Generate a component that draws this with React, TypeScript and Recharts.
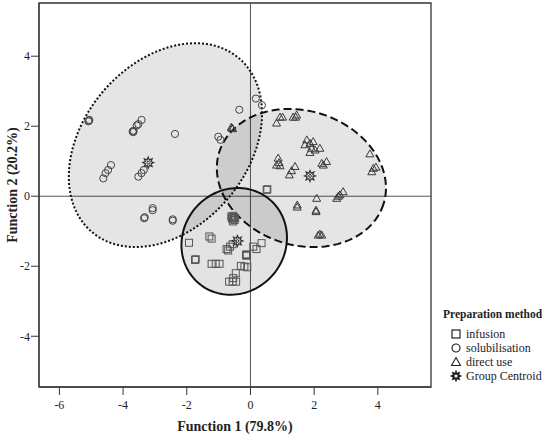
import React from "react";
import {
  ReferenceArea,
  ReferenceLine,
  Scatter,
  ScatterChart,
  XAxis,
  YAxis,
} from "recharts";

const SERIF = "'Liberation Serif', 'Times New Roman', serif";
const INK = "#333";

const X_TICKS = [-6, -4, -2, 0, 2, 4];
const Y_TICKS = [-4, -2, 0, 2, 4];
const X_DOMAIN = [-6.64, 5.67];
const Y_DOMAIN = [-5.45, 5.52];

// discriminant scores [function 1, function 2]
const infusion = [
  [0.51, 0.18], [0.53, 0.2],
  [-1.93, -1.33], [-1.29, -1.15], [-1.22, -1.21],
  [-1.74, -1.82], [-1.72, -1.8],
  [-1.22, -1.93], [-1.09, -1.93], [-0.97, -1.93],
  [-0.75, -1.51], [-0.7, -1.55], [-0.64, -1.44], [-0.56, -1.37],
  [-0.14, -1.68], [-0.12, -1.66], [-0.13, -1.7],
  [0.09, -1.44], [0.19, -1.51], [0.35, -1.34],
  [-0.3, -1.99], [-0.19, -2.01], [-0.1, -2.03],
  [-0.46, -2.2], [-0.67, -2.44], [-0.56, -2.44], [-0.45, -2.44], [-0.54, -2.34],
  [-0.56, -0.56], [-0.52, -0.6], [-0.58, -0.64], [-0.5, -0.68],
  [-0.55, -0.72], [-0.53, -0.62], [-0.6, -0.58], [-0.48, -0.63],
];

const solubilisation = [
  [-5.07, 2.16], [-5.09, 2.14], [-5.06, 2.18],
  [-3.7, 1.85], [-3.67, 1.87], [-3.68, 1.83],
  [-3.52, 2.06], [-3.57, 2.02], [-3.42, 2.18], [-2.37, 1.78],
  [-4.62, 0.51], [-4.55, 0.66], [-4.47, 0.75], [-4.38, 0.89],
  [-3.52, 0.56], [-3.42, 0.66], [-3.35, 0.75],
  [-1.01, 1.7], [-0.94, 1.61], [-0.35, 2.47], [0.17, 2.79], [0.36, 2.6],
  [-3.07, -0.34], [-3.07, -0.4], [-3.34, -0.63], [-3.32, -0.6],
  [-2.44, -0.66], [-2.44, -0.7],
];

const directUse = [
  [-0.58, 1.95], [-0.56, 1.93], [-0.6, 1.97],
  [0.82, 2.09], [0.93, 2.26], [1.01, 2.26],
  [1.34, 2.26], [1.42, 2.26], [1.45, 2.32],
  [1.71, 1.47], [1.77, 1.61], [1.87, 1.51], [1.97, 1.56],
  [1.92, 1.37], [2.03, 1.32], [1.87, 1.25], [2.18, 1.37],
  [0.87, 1.09], [0.9, 0.96], [0.82, 0.89], [0.93, 0.87],
  [1.4, 0.85], [1.29, 0.73], [1.22, 0.61],
  [2.24, 0.94], [2.39, 0.99], [2.29, 0.89],
  [3.75, 1.21], [3.86, 0.8], [3.94, 0.83], [3.81, 0.7],
  [2.08, -0.06], [1.47, -0.25], [1.47, -0.31], [2.06, -0.44], [2.06, -0.4],
  [2.71, -0.06], [2.76, 0.0], [2.81, 0.04], [2.91, 0.13],
  [2.13, -1.11], [2.18, -1.08], [2.24, -1.11],
];

const centroids = [
  [-0.41, -1.28],
  [-3.21, 0.96],
  [1.87, 0.58],
];

// group regions: centre x, centre y, then two conjugate half-axes (function units)
const solubilisationRegion = [-2.67, 1.46, 2.3, 2.49, 1.98, -1.51];
const directUseRegion = [1.6, 0.52, 2.58, -0.74, -0.63, -1.83];
const infusionRegion = [-0.51, -1.29, 1.11, 1.2, 1.23, -0.94];

const LEGEND = ["infusion", "solubilisation", "direct use", "Group Centroid"];

const toPts = (arr: number[][]) => arr.map(([x, y]) => ({ x, y }));

function outline([cx, cy, ux, uy, vx, vy]: number[]) {
  const pts: { x: number; y: number }[] = [];
  for (let i = 0; i <= 120; i++) {
    const t = (i / 120) * Math.PI * 2;
    pts.push({
      x: cx + ux * Math.cos(t) + vx * Math.sin(t),
      y: cy + uy * Math.cos(t) + vy * Math.sin(t),
    });
  }
  return pts;
}

const Nothing = () => <g />;

const SquareDot = (p: any) => (
  <rect x={p.cx - 3.5} y={p.cy - 3.5} width={7} height={7} fill="none" stroke="#555" strokeWidth={1} />
);
const CircleDot = (p: any) => (
  <circle cx={p.cx} cy={p.cy} r={3.6} fill="none" stroke="#444" strokeWidth={1} />
);
const TriangleDot = (p: any) => (
  <path
    d={`M${p.cx},${p.cy - 4}L${p.cx + 4},${p.cy + 3}L${p.cx - 4},${p.cy + 3}Z`}
    fill="none"
    stroke="#3a3a3a"
    strokeWidth={1}
  />
);

function starPath(cx: number, cy: number, ro: number, ri: number) {
  let d = "";
  for (let i = 0; i < 16; i++) {
    const r = i % 2 === 0 ? ro : ri;
    const a = (i * Math.PI) / 8 - Math.PI / 2;
    d += `${i === 0 ? "M" : "L"}${cx + r * Math.cos(a)},${cy + r * Math.sin(a)}`;
  }
  return d + "Z";
}

const StarDot = (p: any) => (
  <g>
    <path d={starPath(p.cx, p.cy, 5.5, 3)} fill="none" stroke="#333" strokeWidth={1.2} />
    <circle cx={p.cx} cy={p.cy} r={1.4} fill="none" stroke="#333" strokeWidth={1} />
  </g>
);

const legendIcon = (i: number) => {
  if (i === 0) return <rect x={2} y={2} width={8} height={8} fill="none" stroke="#222" strokeWidth={1.2} />;
  if (i === 1) return <circle cx={6} cy={6} r={4} fill="none" stroke="#222" strokeWidth={1.2} />;
  if (i === 2) return <path d="M6,1.5L10.5,9.5L1.5,9.5Z" fill="none" stroke="#222" strokeWidth={1.1} />;
  return (
    <g>
      <path d={starPath(6, 6, 5.5, 3)} fill="#222" stroke="#222" strokeWidth={0.8} />
      <circle cx={6} cy={6} r={1.5} fill="#fff" />
    </g>
  );
};

const YLabel = (props: any) => {
  const vb = props.viewBox || { x: 0, y: 3, width: 39, height: 384 };
  const x = vb.x + 12;
  const y = vb.y + vb.height / 2 - 10;
  return (
    <text
      x={x}
      y={y}
      transform={`rotate(-90, ${x}, ${y})`}
      textAnchor="middle"
      dominantBaseline="central"
      fontFamily={SERIF}
      fontWeight="bold"
      fontSize={14}
      fill="#222"
    >
      Function 2 (20.2%)
    </text>
  );
};

export default function App() {
  return (
    <div style={{ position: "absolute", left: 0, top: 0, width: 550, height: 436, background: "#fff" }}>
      <ScatterChart width={550} height={436} margin={{ top: 3, right: 119, bottom: 0, left: 0 }}>
        <XAxis
          type="number"
          dataKey="x"
          domain={X_DOMAIN}
          ticks={X_TICKS}
          allowDataOverflow
          height={49}
          tickSize={8}
          tickMargin={5}
          axisLine={{ stroke: INK }}
          tickLine={{ stroke: INK }}
          tick={{ fontSize: 12, fontFamily: SERIF, fill: "#222" }}
          label={{
            value: "Function 1 (79.8%)",
            position: "insideBottom",
            offset: 5,
            style: { fontFamily: SERIF, fontWeight: "bold", fontSize: 14, fill: "#222" },
          }}
        />
        <YAxis
          type="number"
          dataKey="y"
          domain={Y_DOMAIN}
          ticks={Y_TICKS}
          allowDataOverflow
          width={39}
          tickSize={8}
          tickMargin={1}
          axisLine={{ stroke: INK }}
          tickLine={{ stroke: INK }}
          tick={{ fontSize: 12, fontFamily: SERIF, fill: "#222" }}
          label={{ content: YLabel }}
        />
        <Scatter
          data={outline(solubilisationRegion)}
          isAnimationActive={false}
          shape={Nothing}
          lineType="joint"
          line={{ stroke: "#111", strokeWidth: 2, strokeDasharray: "2 2", fill: "#000", fillOpacity: 0.1 }}
        />
        <Scatter
          data={outline(directUseRegion)}
          isAnimationActive={false}
          shape={Nothing}
          lineType="joint"
          line={{ stroke: "#111", strokeWidth: 2, strokeDasharray: "8 4", fill: "#000", fillOpacity: 0.1 }}
        />
        <Scatter
          data={outline(infusionRegion)}
          isAnimationActive={false}
          shape={Nothing}
          lineType="joint"
          line={{ stroke: "#111", strokeWidth: 2, fill: "#000", fillOpacity: 0.11 }}
        />
        <ReferenceLine x={0} stroke="#555" strokeWidth={1} />
        <ReferenceLine y={0} stroke="#555" strokeWidth={1} />
        <ReferenceArea
          x1={X_DOMAIN[0]}
          x2={X_DOMAIN[1]}
          y1={Y_DOMAIN[0]}
          y2={Y_DOMAIN[1]}
          fill="none"
          stroke={INK}
          strokeWidth={1.3}
          ifOverflow="visible"
        />
        <Scatter data={toPts(infusion)} isAnimationActive={false} shape={SquareDot} />
        <Scatter data={toPts(solubilisation)} isAnimationActive={false} shape={CircleDot} />
        <Scatter data={toPts(directUse)} isAnimationActive={false} shape={TriangleDot} />
        <Scatter data={toPts(centroids)} isAnimationActive={false} shape={StarDot} />
      </ScatterChart>
      <div
        style={{
          position: "absolute",
          left: 443,
          top: 307,
          fontFamily: SERIF,
          color: "#222",
          lineHeight: "14px",
        }}
      >
        <div style={{ fontWeight: "bold", fontSize: 11.5, marginBottom: 6 }}>Preparation method</div>
        {LEGEND.map((name, i) => (
          <div key={name} style={{ display: "flex", alignItems: "center", fontSize: 12, height: 14 }}>
            <svg width={12} height={12} style={{ marginLeft: 7, marginRight: 4 }}>
              {legendIcon(i)}
            </svg>
            <span>{name}</span>
          </div>
        ))}
      </div>
    </div>
  );
}
